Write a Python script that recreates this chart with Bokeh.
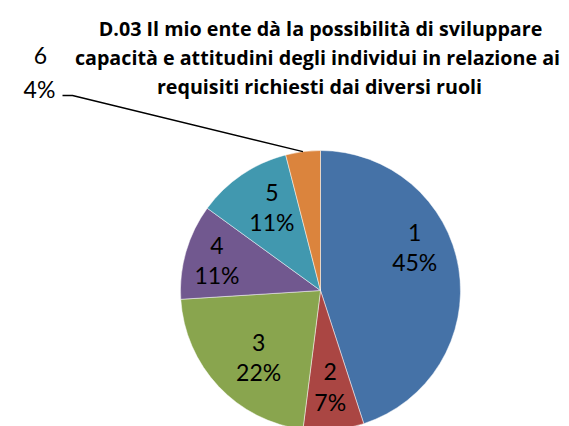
import math
from bokeh.plotting import figure
from bokeh.models import Range1d
from bokeh.core.properties import value
from bokeh.embed import file_html
from bokeh.resources import INLINE

# ---- data ----
categories = ["1", "2", "3", "4", "5", "6"]
percentages = [45, 7, 22, 11, 11, 4]
colors = ["#4572A7", "#AA4643", "#89A54E", "#71588F", "#4198AF", "#DB843D"]
title_lines = [
    "D.03 Il mio ente dà la possibilità di sviluppare",
    "capacità e attitudini degli individui in relazione ai",
    "requisiti richiesti dai diversi ruoli",
]

# ---- layout (pixel-like data space: x = px, y = -px) ----
W, H = 569, 426
CX, CY, R = 320, -290, 140
FONT = "Lato"
TFONT = "Open Sans"

p = figure(width=W, height=H, output_backend="svg", toolbar_location=None,
           x_range=Range1d(0, W), y_range=Range1d(-H, 0),
           min_border=0)
p.axis.visible = False
p.grid.visible = False
p.outline_line_color = None
p.background_fill_color = "white"
p.border_fill_color = "white"

total = float(sum(percentages))
starts, ends, mids = [], [], []
cum = 0.0
for v in percentages:
    a0 = math.pi / 2 - 2 * math.pi * cum / total
    cum += v
    a1 = math.pi / 2 - 2 * math.pi * cum / total
    starts.append(a0)
    ends.append(a1)
    mids.append((a0 + a1) / 2)

p.wedge(x=CX, y=CY, radius=R, start_angle=starts, end_angle=ends,
        direction="clock", fill_color=colors, line_color="white",
        line_width=0.6, line_alpha=0.8)

# inside labels (layout nudges)
label_r = [0.74, 0.69, 0.65, 0.77, 0.69]
label_nudge_deg = [15.6, 0.4, 4.0, 0.0, -4.0]
LS = 30
for i in range(5):
    a = mids[i] + math.radians(label_nudge_deg[i])
    lx = CX + label_r[i] * R * math.cos(a)
    ly = CY + label_r[i] * R * math.sin(a)
    p.text(x=[lx, lx], y=[ly + LS / 2, ly - LS / 2],
           text=[categories[i], f"{percentages[i]}%"],
           text_align="center", text_baseline="middle",
           text_font=value(FONT), text_font_size="23px", text_color="black")

# outside label for last slice with leader line
ex = CX + R * math.cos(mids[5])
ey = CY + R * math.sin(mids[5])
p.line(x=[62, 72, ex], y=[-95, -95, ey], line_color="black", line_width=1.5)
p.text(x=[40, 39], y=[-55, -88], text=[categories[5], f"{percentages[5]}%"],
       text_align="center", text_baseline="middle",
       text_font=value(FONT), text_font_size="23px", text_color="black")

# title
title_x = [320, 317, 319]
title_y = [-28, -57, -86]
p.text(x=title_x, y=title_y, text=title_lines, text_align="center",
       text_baseline="alphabetic", text_font=value(TFONT),
       text_font_size="19.7px", text_font_style="bold", text_color="black")

open("out.html", "w").write(file_html(p, INLINE))
